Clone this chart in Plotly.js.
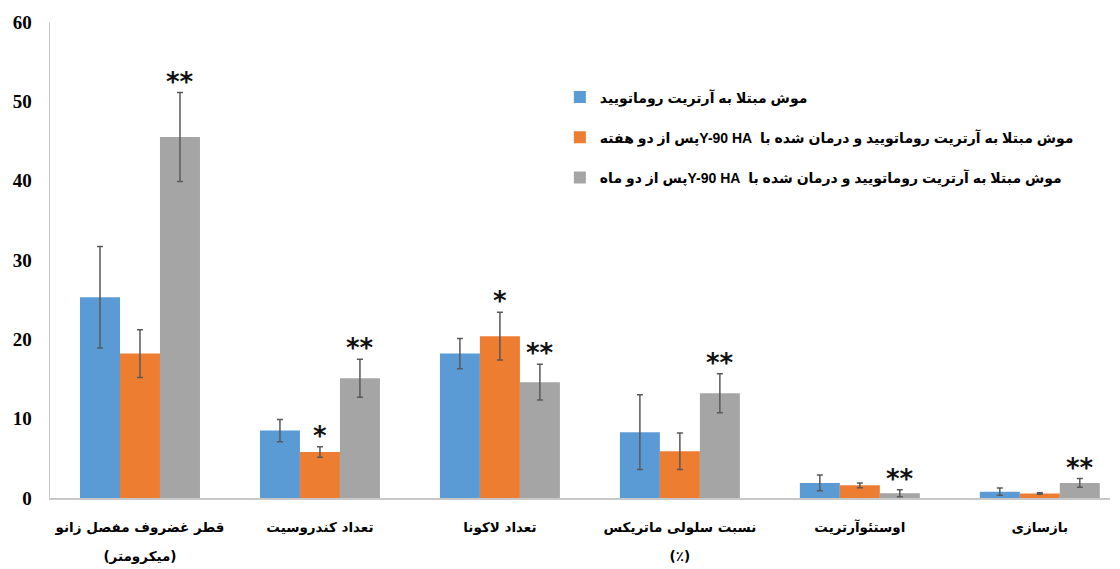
<!DOCTYPE html>
<html>
<head>
<meta charset="utf-8">
<script src="https://cdn.plot.ly/plotly-3.0.1.min.js"></script>
<style>
  html, body { margin: 0; padding: 0; background: #ffffff; }
  #chart { width: 1120px; height: 569px; }
</style>
</head>
<body>
<div id="chart"></div>
<script>
// ---- data ----
var categories = [
  "قطر غضروف مفصل زانو<br>(میکرومتر)",
  "تعداد کندروسیت",
  "تعداد لاکونا",
  "نسبت سلولی ماتریکس<br>(٪)",
  "اوستئوآرتریت",
  "بازسازی"
];
var seriesNames = [
  "موش مبتلا به آرتریت روماتویید",
  "موش مبتلا به آرتریت روماتویید و درمان شده با  <b>Y-90 HA</b>پس از دو هفته",
  "موش مبتلا به آرتریت روماتویید و درمان شده با  <b>Y-90 HA</b>پس از دو ماه"
];
var valuesRA      = [25.3, 8.5, 18.2, 8.3, 1.9, 0.8];
var errRA         = [6.4, 1.4, 1.9, 4.7, 1.0, 0.45];
var valuesTwoWeek = [18.2, 5.8, 20.4, 5.9, 1.6, 0.57];
var errTwoWeek    = [3.0, 0.65, 3.0, 2.3, 0.3, 0.1];
var valuesTwoMonth= [45.5, 15.1, 14.6, 13.2, 0.6, 1.9];
var errTwoMonth   = [5.6, 2.4, 2.25, 2.45, 0.45, 0.55];
var sigRA       = ["", "", "", "", "", ""];
var sigTwoWeek  = ["", "*", "*", "", "", ""];
var sigTwoMonth = ["**", "**", "**", "**", "**", "**"];
var yTicks = [0, 10, 20, 30, 40, 50, 60];

// ---- styles ----
var colors = ["#5B9BD5", "#ED7D31", "#A5A5A5"];
var allValues = [valuesRA, valuesTwoWeek, valuesTwoMonth];
var allErr = [errRA, errTwoWeek, errTwoMonth];
var allSig = [sigRA, sigTwoWeek, sigTwoMonth];
var bargap = 1/3;
var RLE = "\u202B", PDF = "\u202C";

var tickText = categories.map(function (c) {
  return "<span style='font-size:13.5px'>" + c.split("<br>").join("</span><br><span style='font-size:13.5px'>") + "</span>";
});

var traces = allValues.map(function (vals, k) {
  return {
    type: "bar",
    x: categories,
    y: vals,
    name: RLE + seriesNames[k] + PDF,
    legendgroup: "g" + k,
    marker: { color: colors[k] },
    error_y: { type: "data", array: allErr[k], visible: true,
               color: "#595959", thickness: 1.5, width: 3 },
    hoverinfo: "y"
  };
});

var annotations = [];
var barW = (1 - bargap) / 3;
allSig.forEach(function (sig, k) {
  sig.forEach(function (s, i) {
    if (!s) return;
    annotations.push({
      xref: "x", yref: "y",
      x: i + (k - 1) * barW,
      y: allValues[k][i] + allErr[k][i],
      text: s,
      showarrow: false,
      yanchor: "bottom",
      yshift: -6,
      font: { family: "DejaVu Sans", size: 26, color: "#111111", weight: "bold" }
    });
  });
});

var layout = {
  width: 1120, height: 569,
  margin: { l: 50, r: 10, t: 22, b: 71, pad: 0 },
  paper_bgcolor: "#ffffff", plot_bgcolor: "#ffffff",
  barmode: "group",
  bargap: bargap, bargroupgap: 0,
  showlegend: true,
  legend: {
    x: 0.481, y: 0.875, xanchor: "left", yanchor: "top",
    font: { family: "Liberation Sans, DejaVu Sans", size: 14, color: "#000000", weight: "bold" },
    tracegroupgap: 19,
    bgcolor: "rgba(0,0,0,0)"
  },
  xaxis: {
    type: "category",
    range: [-0.5, 5.39],
    tickvals: categories,
    ticktext: tickText,
    showline: true, linecolor: "#c8c8c8", linewidth: 1.5,
    showgrid: false, zeroline: false, ticks: "",
    tickfont: { family: "DejaVu Sans", size: 22, color: "#000000", weight: "bold" },
    ticklabelstandoff: 6
  },
  yaxis: {
    range: [0, 60],
    tickvals: yTicks,
    showline: true, linecolor: "#c8c8c8", linewidth: 1.5,
    showgrid: false, zeroline: false, ticks: "",
    tickfont: { family: "Liberation Serif", size: 19, color: "#000000", weight: "bold" },
    ticklabelstandoff: 13
  },
  annotations: annotations
};

Plotly.newPlot("chart", traces, layout, { staticPlot: true, displayModeBar: false });
</script>
</body>
</html>
